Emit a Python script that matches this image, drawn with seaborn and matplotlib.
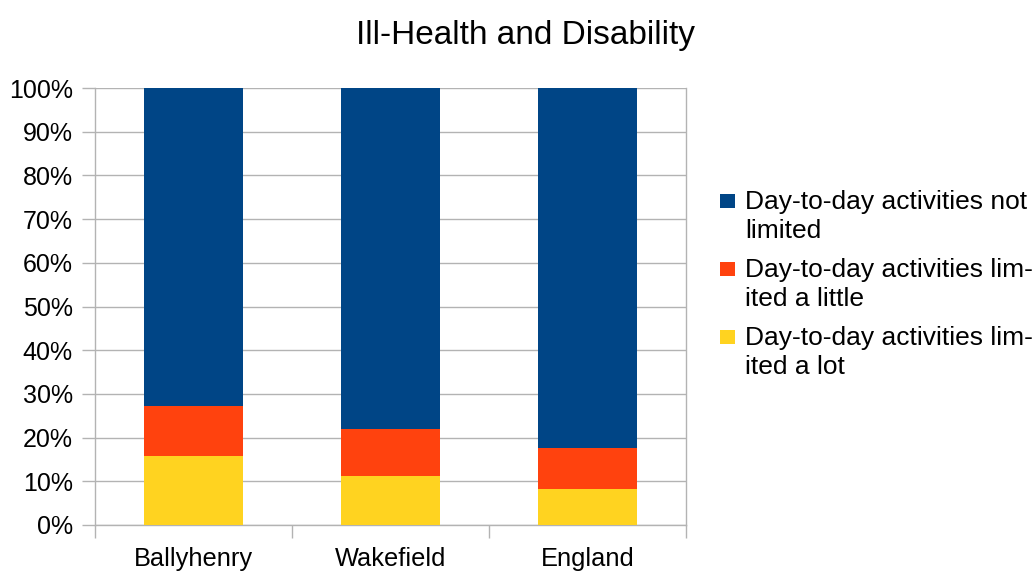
import numpy as np
import pandas as pd
import seaborn as sns
import matplotlib.pyplot as plt
from matplotlib.patches import Rectangle
from matplotlib.ticker import PercentFormatter

# values (percent)
areas = ["Ballyhenry", "Wakefield", "England"]
limited_lot = [15.7, 11.3, 8.3]
limited_little = [11.6, 10.7, 9.3]
not_limited = [72.7, 78.0, 82.4]

labels = ["Day-to-day activities not\nlimited",
          "Day-to-day activities lim-\nited a little",
          "Day-to-day activities lim-\nited a lot"]
colors = ["#004586", "#ff420e", "#ffd320"]

sns.set_style("white")
plt.rcParams['font.family'] = ['Liberation Sans', 'DejaVu Sans']
plt.rcParams['text.color'] = 'black'
plt.rcParams['xtick.color'] = 'black'
plt.rcParams['ytick.color'] = 'black'

fig = plt.figure(figsize=(10.36, 5.72), dpi=100)
ax = fig.add_axes([95/1036, 1 - 525/572, (686-95)/1036, (525-88)/572])

df = pd.DataFrame({"area": areas, "lot": limited_lot,
                   "little": limited_little, "not": not_limited})
bottom_little = df["lot"]
bottom_not = df["lot"] + df["little"]

sns.barplot(data=df, x="area", y="lot", color=colors[2], width=0.5,
            saturation=1, ax=ax, linewidth=0, zorder=3)
sns.barplot(data=df, x="area", y="little", color=colors[1], width=0.5,
            saturation=1, ax=ax, linewidth=0, bottom=bottom_little, zorder=3)
sns.barplot(data=df, x="area", y="not", color=colors[0], width=0.5,
            saturation=1, ax=ax, linewidth=0, bottom=bottom_not, zorder=3)

ax.set_ylim(0, 100)
ax.set_xlim(-0.5, 2.5)
ax.set_yticks(np.arange(0, 101, 10))
ax.yaxis.set_major_formatter(PercentFormatter(decimals=0))
ax.grid(axis="y", color="#b3b3b3", linewidth=1, zorder=0)
ax.set_xlabel("")
ax.set_ylabel("")

# category separators as major ticks, names as minor ticks
ax.set_xticks([-0.5, 0.5, 1.5, 2.5])
ax.set_xticklabels([])
ax.set_xticks([0, 1, 2], minor=True)
ax.set_xticklabels(areas, minor=True, fontsize=18.3)
ax.tick_params(axis="x", which="major", bottom=True, length=9, color="#b3b3b3", width=1)
ax.tick_params(axis="x", which="minor", bottom=True, length=0, pad=16)
ax.tick_params(axis="y", left=True, length=9.4, color="#b3b3b3", width=1,
               labelsize=18, pad=6.5, labelcolor="black")

for s in ["left", "right", "bottom"]:
    ax.spines[s].set_color("#b3b3b3")
    ax.spines[s].set_linewidth(1)
ax.spines["top"].set_visible(False)

# legend drawn by hand so the square sits on the first line of each label
W, H = 1036, 572
for i, (lab, c) in enumerate(zip(labels, colors)):
    yc = 201 + i * 68
    fig.patches.append(Rectangle((720 / W, 1 - (yc + 7) / H), 15 / W, 14 / H,
                                 transform=fig.transFigure, facecolor=c,
                                 edgecolor="none", figure=fig))
    fig.text(745 / W, 1 - (yc - 11) / H, lab, fontsize=19, va="top", ha="left",
             linespacing=1.24)

fig.suptitle("Ill-Health and Disability", fontsize=24, x=525/1036, y=1 - 20/572, va="top")

fig.savefig("out.png", dpi=100)
